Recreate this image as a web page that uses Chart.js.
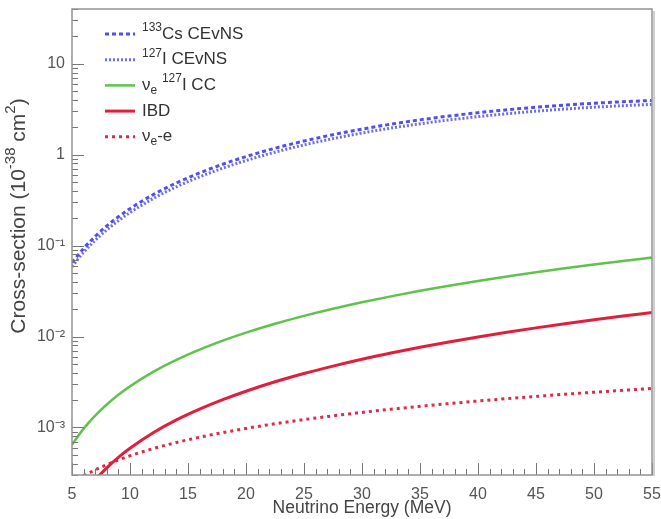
<!DOCTYPE html>
<html>
<head>
<meta charset="utf-8">
<script src="https://cdn.jsdelivr.net/npm/chart.js@4.4.0/dist/chart.umd.min.js"></script>
<style>
  html, body { margin: 0; padding: 0; background: #fff; }
</style>
</head>
<body>
<canvas id="xs-chart" width="661" height="519"></canvas>
<script>
// Neutrino energy grid (MeV)
var energy = [5, 6, 7, 8, 9, 10, 12, 14, 16, 18, 20, 22.5, 25, 27.5, 30, 32.5, 35, 37.5, 40, 42.5, 45, 47.5, 50, 52.5, 55];

// cross-sections in 10^-38 cm^2
var csCEvNS = [0.0649, 0.0932, 0.1264, 0.1646, 0.2075, 0.2550, 0.3638, 0.4893, 0.6302, 0.7849, 0.9527, 1.177, 1.413, 1.659, 1.911, 2.165, 2.414, 2.659, 2.893, 3.117, 3.322, 3.511, 3.678, 3.823, 3.946];
var iCEvNS = [0.0587, 0.0844, 0.1144, 0.1490, 0.1877, 0.2308, 0.3292, 0.4427, 0.5702, 0.7101, 0.8619, 1.065, 1.279, 1.501, 1.729, 1.959, 2.184, 2.405, 2.617, 2.821, 3.006, 3.177, 3.328, 3.459, 3.570];
var iCC = [6.47e-4, 9.71e-4, 1.352e-3, 1.79e-3, 2.29e-3, 2.83e-3, 4.08e-3, 5.53e-3, 7.17e-3, 9.0e-3, 0.01103, 0.01381, 0.01687, 0.0202, 0.0238, 0.02765, 0.0318, 0.0362, 0.0408, 0.0457, 0.0508, 0.0562, 0.0618, 0.0677, 0.0738];
var ibd = [null, 1.85e-4, 2.65e-4, 3.60e-4, 4.69e-4, 5.90e-4, 8.73e-4, 1.21e-3, 1.59e-3, 2.02e-3, 2.50e-3, 3.18e-3, 3.92e-3, 4.73e-3, 5.62e-3, 6.58e-3, 7.62e-3, 8.72e-3, 9.89e-3, 0.01113, 0.01245, 0.01382, 0.01527, 0.01679, 0.01837];
var nueE = [null, 2.93e-4, 3.42e-4, 3.90e-4, 4.39e-4, 4.88e-4, 5.86e-4, 6.83e-4, 7.81e-4, 8.78e-4, 9.76e-4, 1.098e-3, 1.22e-3, 1.342e-3, 1.464e-3, 1.586e-3, 1.708e-3, 1.83e-3, 1.952e-3, 2.074e-3, 2.196e-3, 2.318e-3, 2.44e-3, 2.562e-3, 2.684e-3];

var seriesNames = ['\u00B9\u00B3\u00B3Cs CEvNS', '\u00B9\u00B2\u2077I CEvNS', '\u03BD\u2091 \u00B9\u00B2\u2077I CC', 'IBD', '\u03BD\u2091-e'];
// same names split into normal / superscript / subscript pieces for drawing
var legendParts = [
  [['133', 'sup'], ['Cs CEvNS', '']],
  [['127', 'sup'], ['I CEvNS', '']],
  [['\u03BD', ''], ['e', 'sub'], [' ', ''], ['127', 'sup'], ['I CC', '']],
  [['IBD', '']],
  [['\u03BD', ''], ['e', 'sub'], ['-e', '']]
];

// axis ticks
var xTickLabels = [5, 10, 15, 20, 25, 30, 35, 40, 45, 50, 55];
var yMajorValues = [1e-3, 1e-2, 1e-1, 1, 10];
var yMajorLabels = ['10\u207B\u00B3', '10\u207B\u00B2', '10\u207B\u00B9', '1', '10'];
var yTitleParts = [['Cross-section (10', ''], ['-38', 'sup'], [' cm', ''], ['2', 'sup'], [')', '']];

var FONT = '"Liberation Sans", Arial, Helvetica, sans-serif';

function pts(arr) {
  return energy.map(function(e, i) { return { x: e, y: arr[i] }; });
}

// draw a run of text pieces with super/subscripts, left aligned at x, middle at y
function richWidth(ctx, parts, size) {
  var w = 0;
  parts.forEach(function(p) {
    ctx.font = (p[1] ? Math.round(size * 0.72) : size) + 'px ' + FONT;
    w += ctx.measureText(p[0]).width;
  });
  return w;
}
function drawRich(ctx, parts, x, y, size) {
  ctx.textBaseline = 'middle';
  ctx.textAlign = 'left';
  parts.forEach(function(p) {
    var dy = p[1] === 'sup' ? -size * 0.38 : (p[1] === 'sub' ? size * 0.3 : 0);
    ctx.font = (p[1] ? Math.round(size * 0.72) : size) + 'px ' + FONT;
    ctx.fillText(p[0], x, y + dy);
    x += ctx.measureText(p[0]).width;
  });
}

// tick marks drawn inside the frame, ROOT style, plus the frame itself
var frameTicks = {
  id: 'frameTicks',
  afterDatasetsDraw: function(chart) {
    var ctx = chart.ctx, a = chart.chartArea;
    var xs = chart.scales.x, ys = chart.scales.y;
    ctx.save();
    ctx.strokeStyle = '#777';
    ctx.lineWidth = 1;
    ctx.beginPath();
    ys.ticks.forEach(function(t) {
      var v = t.value;
      var e = Math.floor(Math.log10(v) + 1e-9);
      var m = v / Math.pow(10, e);
      if (Math.abs(m - Math.round(m)) > 1e-6) return;
      var len = Math.round(m) === 1 ? 12 : 6;
      var y = Math.round(ys.getPixelForValue(v)) + 0.5;
      ctx.moveTo(a.left, y);
      ctx.lineTo(a.left + len, y);
    });
    xs.ticks.forEach(function(t) {
      var len = xTickLabels.indexOf(t.value) >= 0 ? 12 : 6;
      var x = Math.round(xs.getPixelForValue(t.value)) + 0.5;
      ctx.moveTo(x, a.bottom);
      ctx.lineTo(x, a.bottom - len);
    });
    ctx.stroke();
    ctx.strokeStyle = '#939393';
    ctx.lineWidth = 1.5;
    ctx.strokeRect(a.left, a.top, a.right - a.left, a.bottom - a.top);
    ctx.strokeStyle = '#cfcfcf';
    ctx.lineWidth = 2;
    ctx.beginPath();
    ctx.moveTo(a.right + 2, a.top + 2);
    ctx.lineTo(a.right + 2, a.bottom + 1);
    ctx.stroke();
    ctx.restore();
  },
  afterDraw: function(chart) {
    var ctx = chart.ctx;
    // y axis title, placed like the original (not centred on the axis)
    ctx.save();
    ctx.translate(19, 216);
    ctx.rotate(-Math.PI / 2);
    ctx.fillStyle = '#444';
    var w = richWidth(ctx, yTitleParts, 21);
    drawRich(ctx, yTitleParts, -w / 2, 0, 21);
    ctx.restore();

    // legend inside the frame, top left
    ctx.save();
    chart.data.datasets.forEach(function(ds, i) {
      var y = 34 + i * 25.7;
      ctx.strokeStyle = ds.borderColor;
      ctx.lineWidth = ds.borderWidth;
      ctx.setLineDash(ds.borderDash || []);
      ctx.beginPath();
      ctx.moveTo(105, y);
      ctx.lineTo(135, y);
      ctx.stroke();
      ctx.setLineDash([]);
      ctx.fillStyle = '#333';
      drawRich(ctx, legendParts[i], 142, y, 17);
    });
    ctx.restore();
  }
};

var ctx = document.getElementById('xs-chart').getContext('2d');

var chart = new Chart(ctx, {
  type: 'line',
  data: {
    datasets: [
      { label: seriesNames[0], data: pts(csCEvNS), borderColor: 'rgb(80,80,240)', backgroundColor: 'rgb(80,80,240)', borderWidth: 3, borderDash: [4, 3] },
      { label: seriesNames[1], data: pts(iCEvNS), borderColor: 'rgb(110,110,235)', backgroundColor: 'rgb(110,110,235)', borderWidth: 3, borderDash: [2, 2] },
      { label: seriesNames[2], data: pts(iCC), borderColor: 'rgb(95,195,75)', backgroundColor: 'rgb(95,195,75)', borderWidth: 2.5 },
      { label: seriesNames[3], data: pts(ibd), borderColor: 'rgb(225,30,60)', backgroundColor: 'rgb(225,30,60)', borderWidth: 3 },
      { label: seriesNames[4], data: pts(nueE), borderColor: 'rgb(225,40,70)', backgroundColor: 'rgb(225,40,70)', borderWidth: 3, borderDash: [3, 4] }
    ]
  },
  options: {
    responsive: false,
    animation: false,
    devicePixelRatio: 1,
    layout: { padding: { left: 0, right: 9, top: 9, bottom: 0 } },
    elements: {
      point: { radius: 0 },
      line: { cubicInterpolationMode: 'monotone' }
    },
    plugins: {
      tooltip: { enabled: false },
      legend: { display: false }
    },
    scales: {
      x: {
        type: 'linear',
        min: 5,
        max: 55,
        afterFit: function(s) { s.height = 44; s.paddingLeft = 0; s.paddingRight = 0; },
        grid: { display: false, drawTicks: false },
        border: { display: false },
        ticks: {
          stepSize: 1,
          autoSkip: false,
          maxRotation: 0,
          padding: 10,
          color: '#555',
          font: { size: 16, family: FONT },
          callback: function(v) { return xTickLabels.indexOf(v) >= 0 ? String(v) : ''; }
        },
        title: {
          display: true,
          text: 'Neutrino Energy (MeV)',
          color: '#444',
          font: { size: 17.5, family: FONT },
          padding: { top: 0, bottom: 0 }
        }
      },
      y: {
        type: 'logarithmic',
        min: 3.2e-4,
        max: 40,
        afterFit: function(s) { s.width = 72; s.paddingTop = 0; s.paddingBottom = 0; },
        grid: { display: false, drawTicks: false },
        border: { display: false },
        ticks: {
          autoSkip: false,
          padding: 7,
          color: '#555',
          font: { size: 16, family: FONT },
          callback: function(v) {
            for (var i = 0; i < yMajorValues.length; i++) {
              if (Math.abs(v - yMajorValues[i]) < yMajorValues[i] * 1e-6) return yMajorLabels[i];
            }
            return '';
          }
        }
      }
    }
  },
  plugins: [frameTicks]
});
</script>
</body>
</html>
